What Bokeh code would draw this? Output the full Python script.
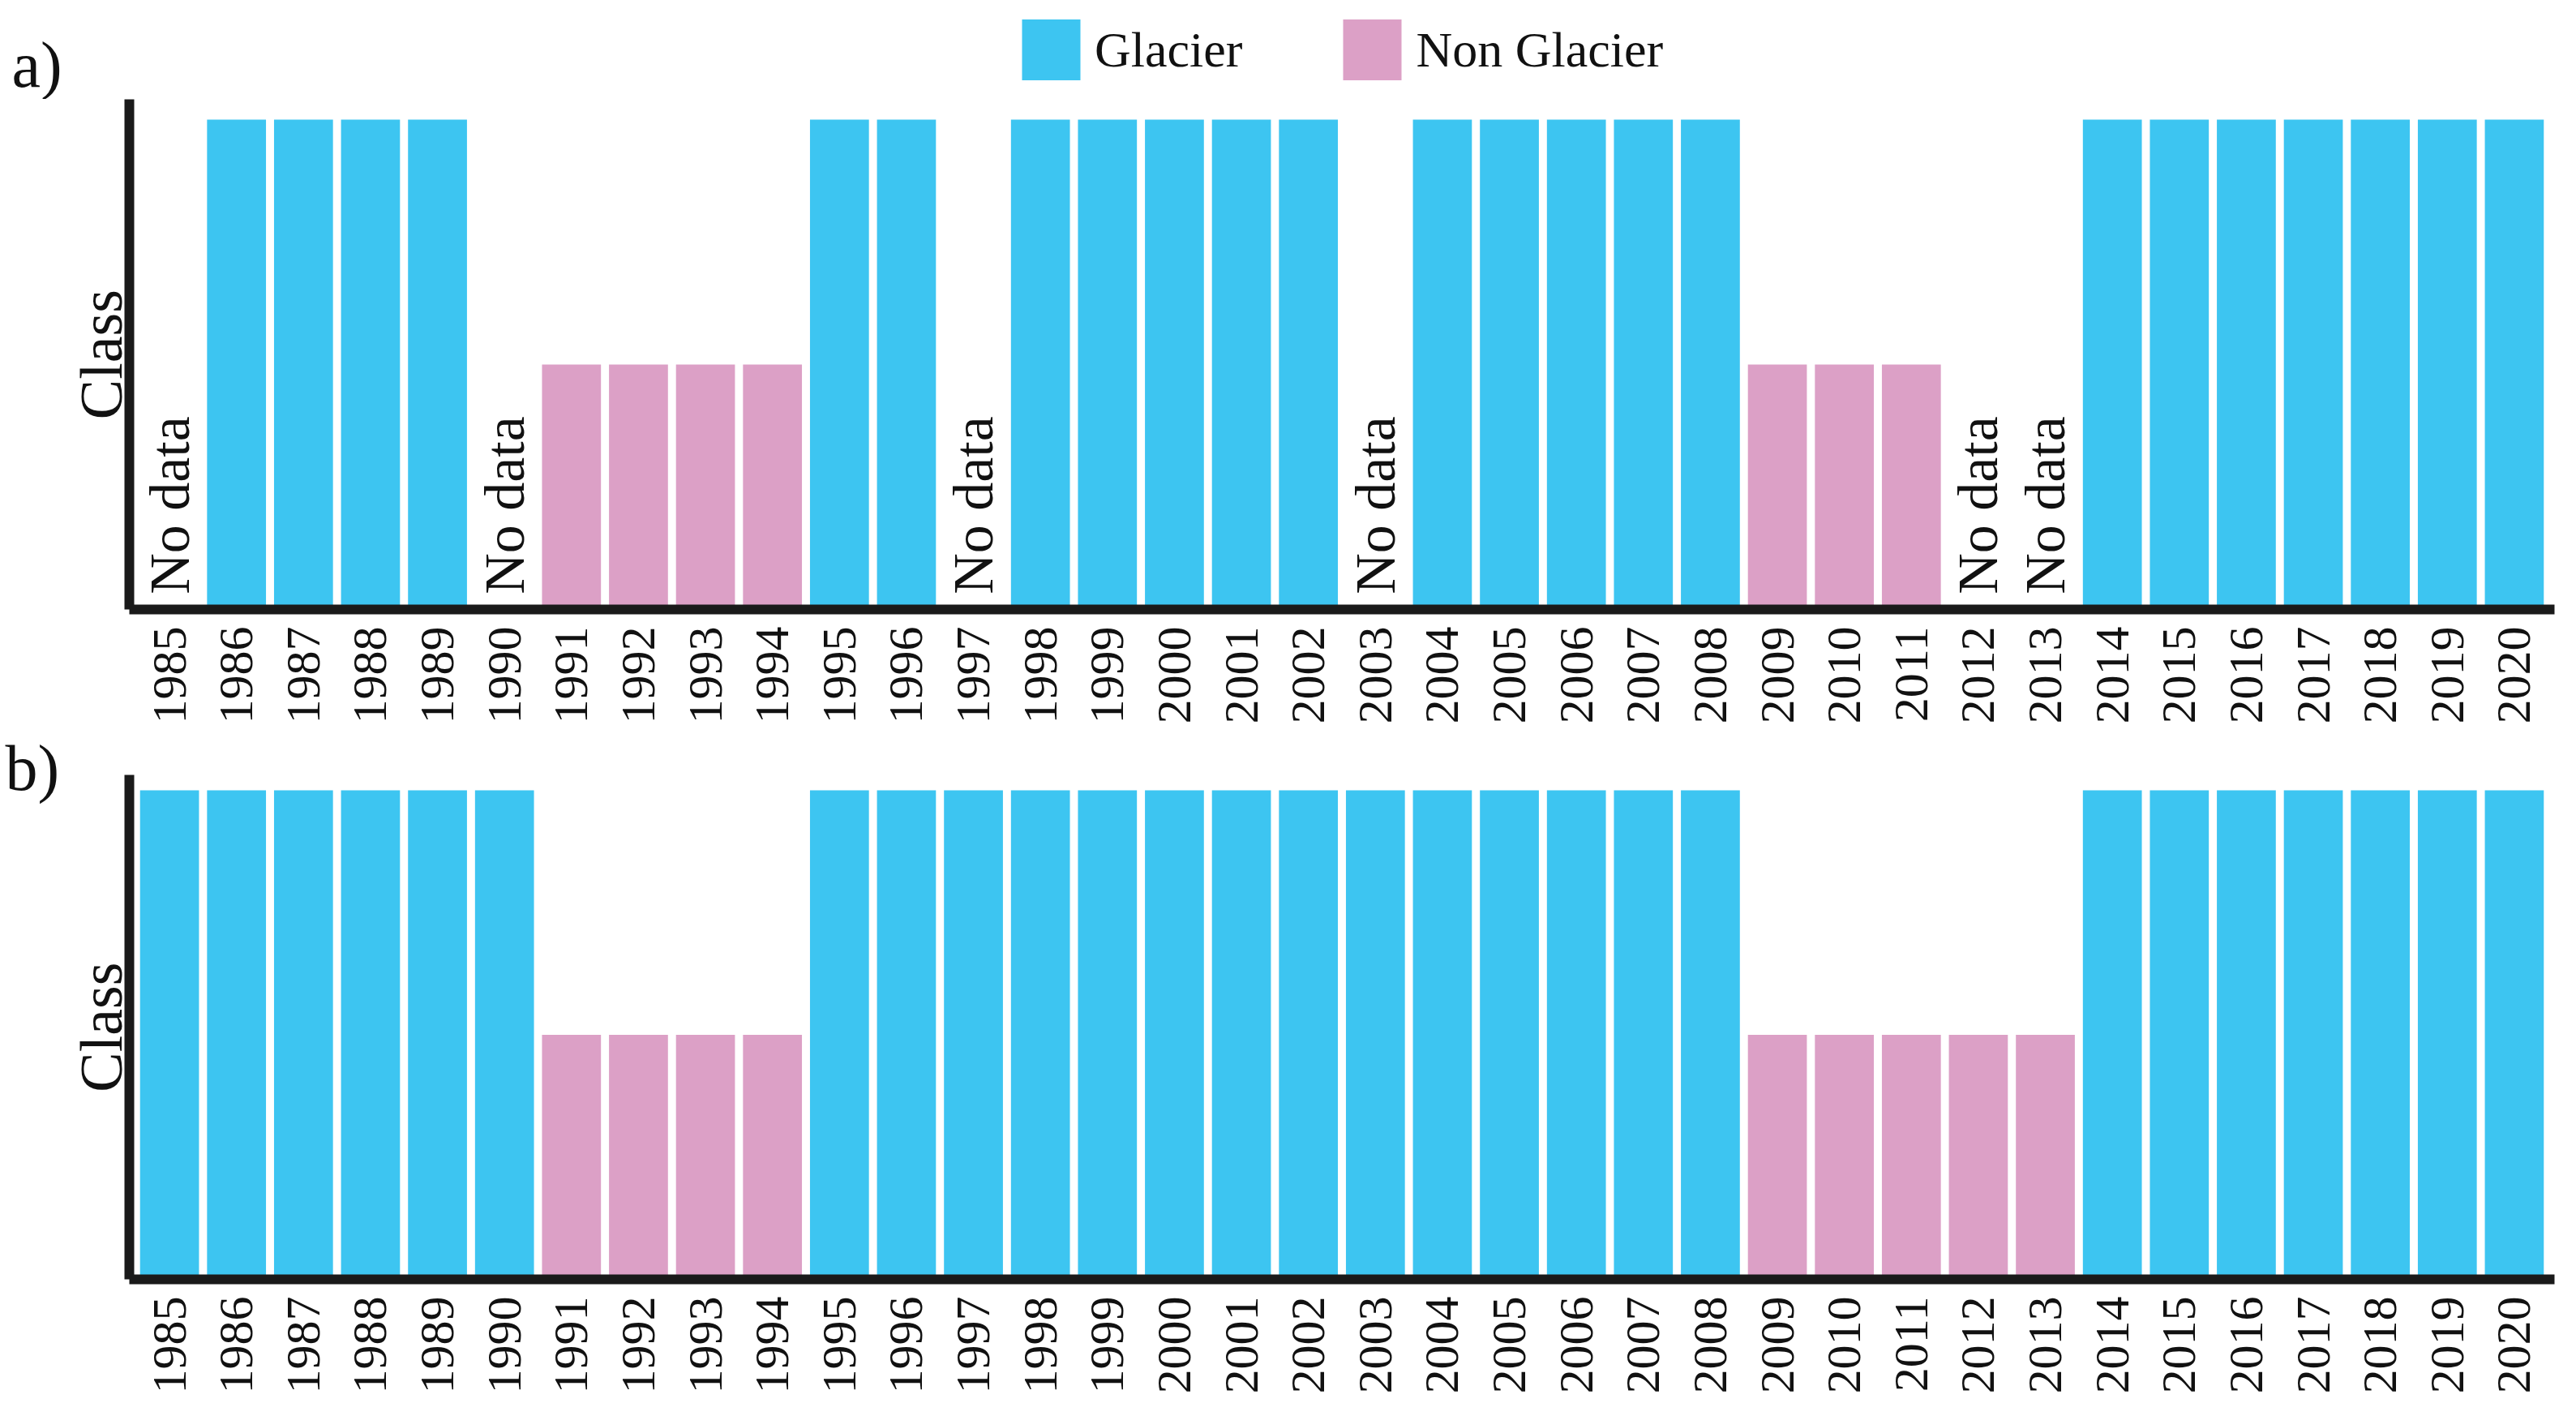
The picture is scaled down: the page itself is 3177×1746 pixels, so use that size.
import math
from bokeh.plotting import figure
from bokeh.models import ColumnDataSource, FactorRange, Range1d, Legend, LegendItem, FixedTicker
from bokeh.layouts import column, row
from bokeh.core.properties import value
from bokeh.embed import file_html
from bokeh.resources import INLINE

# ---------------- data ----------------
years = ["1985", "1986", "1987", "1988", "1989", "1990", "1991", "1992", "1993",
         "1994", "1995", "1996", "1997", "1998", "1999", "2000", "2001", "2002",
         "2003", "2004", "2005", "2006", "2007", "2008", "2009", "2010", "2011",
         "2012", "2013", "2014", "2015", "2016", "2017", "2018", "2019", "2020"]

class_a = ["No data", "Glacier", "Glacier", "Glacier", "Glacier", "No data",
           "Non Glacier", "Non Glacier", "Non Glacier", "Non Glacier",
           "Glacier", "Glacier", "No data",
           "Glacier", "Glacier", "Glacier", "Glacier", "Glacier", "No data",
           "Glacier", "Glacier", "Glacier", "Glacier", "Glacier",
           "Non Glacier", "Non Glacier", "Non Glacier", "No data", "No data",
           "Glacier", "Glacier", "Glacier", "Glacier", "Glacier", "Glacier", "Glacier"]

class_b = ["Glacier", "Glacier", "Glacier", "Glacier", "Glacier", "Glacier",
           "Non Glacier", "Non Glacier", "Non Glacier", "Non Glacier",
           "Glacier", "Glacier", "Glacier", "Glacier", "Glacier", "Glacier", "Glacier",
           "Glacier", "Glacier", "Glacier", "Glacier", "Glacier", "Glacier", "Glacier",
           "Non Glacier", "Non Glacier", "Non Glacier", "Non Glacier", "Non Glacier",
           "Glacier", "Glacier", "Glacier", "Glacier", "Glacier", "Glacier", "Glacier"]

class_names = ["Glacier", "Non Glacier"]
class_values = [2, 1]
class_colors = ["#3DC5F1", "#DCA0C6"]
no_data_text = "No data"
panel_tags = ["a)", "b)"]

FONT = "Liberation Serif"
AXIS_COLOR = "#1a1a1a"
TEXT_COLOR = "#111111"

PAGE_W = 3161
STRIP_W = 80
MAIN_W = PAGE_W - STRIP_W
HEADER_H = 122
PA_H = 775
PB_H = 833


def make_panel(classes, height, top_border, bottom_border, ymax):
    p = figure(
        x_range=FactorRange(*years, range_padding=0.1, range_padding_units="absolute"),
        y_range=Range1d(0, ymax),
        width=MAIN_W, height=height,
        min_border_left=76, min_border_right=11,
        min_border_top=top_border, min_border_bottom=bottom_border,
        output_backend="svg", toolbar_location=None,
        background_fill_color="white", border_fill_color="white",
    )
    p.outline_line_color = None
    p.grid.visible = False

    for name, val, col in zip(class_names, class_values, class_colors):
        xs = [y for y, c in zip(years, classes) if c == name]
        tops = [val for c in classes if c == name]
        src = ColumnDataSource(dict(x=xs, top=tops))
        p.vbar(x="x", top="top", bottom=0, width=0.88, source=src,
               fill_color=col, line_color=None)

    nd = [y for y, c in zip(years, classes) if c == no_data_text]
    if nd:
        src = ColumnDataSource(dict(x=nd, y=[0.062] * len(nd), t=[no_data_text] * len(nd)))
        p.text(x="x", y="y", text="t", source=src, angle=math.pi / 2,
               text_align="left", text_baseline="middle",
               text_font=value(FONT), text_font_size="70px", text_color=TEXT_COLOR)

    p.xaxis.axis_line_width = 12
    p.xaxis.axis_line_color = AXIS_COLOR
    p.xaxis.major_tick_line_color = None
    p.xaxis.minor_tick_line_color = None
    p.xaxis.major_tick_out = 0
    p.xaxis.minor_tick_out = 0
    p.xaxis.major_label_orientation = math.pi / 2
    p.xaxis.major_label_text_font = FONT
    p.xaxis.major_label_text_font_size = "60px"
    p.xaxis.major_label_text_color = TEXT_COLOR
    p.xaxis.major_label_standoff = 21

    p.yaxis.ticker = FixedTicker(ticks=[])
    p.yaxis.axis_line_width = 12
    p.yaxis.axis_line_color = AXIS_COLOR
    p.yaxis.major_tick_line_color = None
    p.yaxis.minor_tick_line_color = None
    p.yaxis.major_tick_out = 0
    p.yaxis.minor_tick_out = 0
    p.yaxis.major_label_standoff = 0
    p.yaxis.axis_label = "Class"
    p.yaxis.axis_label_text_font = FONT
    p.yaxis.axis_label_text_font_size = "74px"
    p.yaxis.axis_label_text_font_style = "normal"
    p.yaxis.axis_label_text_color = TEXT_COLOR
    p.yaxis.axis_label_standoff = -6
    return p


# full-width header: panel tag a) and the legend
header = figure(width=PAGE_W, height=HEADER_H, x_range=Range1d(0, PAGE_W),
                y_range=Range1d(0, HEADER_H), min_border=0,
                x_axis_location=None, y_axis_location=None,
                output_backend="svg", toolbar_location=None,
                background_fill_color="white", border_fill_color="white")
header.outline_line_color = None
header.grid.visible = False
legend_renderers = []
for name, col in zip(class_names, class_colors):
    # off-screen bar: only its style is used, for the legend swatch
    r = header.vbar(x=[-500], top=[-500], bottom=[-600], width=1,
                    fill_color=col, line_color=None)
    legend_renderers.append(r)
legend = Legend(items=[LegendItem(label=n, renderers=[r]) for n, r in zip(class_names, legend_renderers)],
                orientation="horizontal", location=(1251, 14),
                glyph_width=90, glyph_height=94, label_standoff=9, spacing=115,
                label_text_font=FONT, label_text_font_size="62px",
                label_text_color=TEXT_COLOR, label_height=94,
                border_line_color=None, background_fill_alpha=0,
                padding=0, margin=0)
header.add_layout(legend, "center")
header.text(x=[14], y=[43], text=[panel_tags[0]], text_align="left",
            text_baseline="alphabetic", text_font=value(FONT),
            text_font_size="80px", text_color=TEXT_COLOR)

pa = make_panel(class_a, PA_H, 0, 146, 2.083)
pb = make_panel(class_b, PB_H, 58, 153, 2.063)

# left strip holding the tag b) (y measured from the strip top)
STRIP_H = PA_H + PB_H
strip = figure(width=STRIP_W, height=STRIP_H, x_range=Range1d(0, STRIP_W),
               y_range=Range1d(STRIP_H, 0), min_border=0,
               x_axis_location=None, y_axis_location=None,
               output_backend="svg", toolbar_location=None,
               background_fill_color="white", border_fill_color="white")
strip.outline_line_color = None
strip.grid.visible = False
strip.text(x=[6], y=[824], text=[panel_tags[1]], text_align="left",
           text_baseline="alphabetic", text_font=value(FONT),
           text_font_size="80px", text_color=TEXT_COLOR)

layout = column(header, row(strip, column(pa, pb, spacing=0), spacing=0), spacing=0)
open("out.html", "w").write(file_html(layout, INLINE))
